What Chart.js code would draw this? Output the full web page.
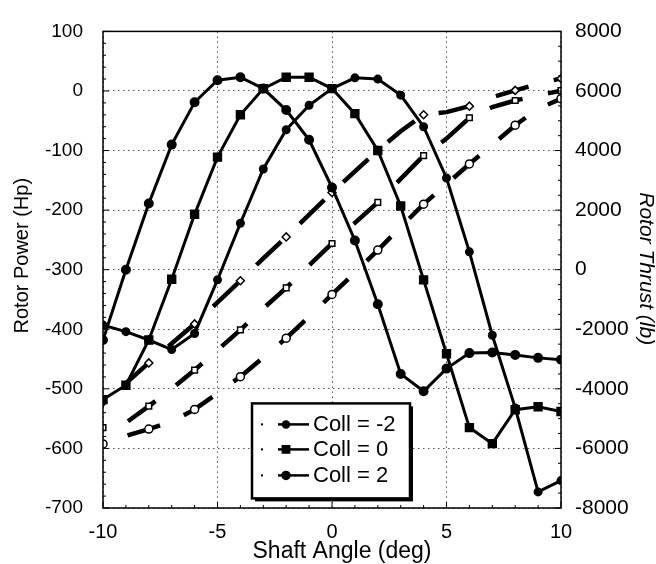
<!DOCTYPE html>
<html>
<head>
<meta charset="utf-8">
<script src="https://cdn.jsdelivr.net/npm/chart.js@4.4.1/dist/chart.umd.min.js"></script>
<style>
body{margin:0;background:#fff;}
#wrap{width:656px;height:564px;}
</style>
</head>
<body>
<div id="wrap"><canvas id="chart" width="656" height="564"></canvas></div>
<script>
// shaft angle (deg)
var angles = [-10,-9,-8,-7,-6,-5,-4,-3,-2,-1,0,1,2,3,4,5,6,7,8,9,10];

// rotor power (Hp), solid lines
var powerCollM2 = [-393,-404,-418,-434,-407,-317,-222,-131,-65,-24,4,22,20,-7,-60,-146,-270,-410,-532,-673,-654];
var powerColl0  = [-518,-494,-418,-316,-207,-111,-40,4,23,23,4,-38,-100,-193,-317,-441,-565,-592,-535,-530,-538];
var powerColl2  = [-418,-300,-189,-90,-19,18,23,4,-32,-82,-162,-251,-358,-475,-504,-466,-440,-439,-443,-448,-451];

// rotor thrust (lb), dashed lines
var thrustCollM2 = [-5850,-5580,-5350,-5100,-4690,-4150,-3590,-2950,-2300,-1570,-830,-100,660,1430,2200,2870,3550,4190,4850,5400,5740];
var thrustColl0  = [-5300,-5140,-4580,-4000,-3370,-2700,-2020,-1300,-610,150,880,1570,2260,3050,3830,4400,5100,5460,5680,5850,6010];
var thrustColl2  = [-4450,-3810,-3130,-2480,-1820,-1100,-370,380,1100,1850,2590,3300,4000,4650,5200,5290,5490,5790,6020,6240,6420];

var collLabels = ["Coll = -2", "Coll = 0", "Coll = 2"];
var markers = ["circle", "rect", "circle"];
var markerSize = [3, 4.5, 3.5];
var openMarkers = ["circle", "rect", "rectRot"];

var powerTicks = [100,0,-100,-200,-300,-400,-500,-600,-700];
var thrustTicks = [8000,6000,4000,2000,0,-2000,-4000,-6000,-8000];

var FONT = "'Liberation Sans', Arial, Helvetica, sans-serif";
Chart.defaults.font.family = FONT;
Chart.defaults.color = '#000';

function pts(vals){
	var out = [];
	for (var i=0; i<angles.length; i++) {
		out.push({x: angles[i], y: vals[i]});
	}
	return out;
}

var powerSets = [powerCollM2, powerColl0, powerColl2];
var thrustSets = [thrustCollM2, thrustColl0, thrustColl2];
var datasets = [];

for (var i=0; i<3; i++) {
	datasets.push({
		label: collLabels[i],
		data: pts(powerSets[i]),
		yAxisID: 'y',
		borderColor: '#000',
		backgroundColor: '#000',
		borderWidth: 3,
		pointStyle: markers[i],
		pointRadius: markerSize[i],
		pointBackgroundColor: '#000',
		pointBorderColor: '#000',
		tension: 0
	});
}
for (var i=0; i<3; i++) {
	datasets.push({
		label: collLabels[i] + ' thrust',
		data: pts(thrustSets[i]),
		yAxisID: 'y1',
		borderColor: '#000',
		borderWidth: 4.5,
		borderDash: [34, 26],
		borderDashOffset: 34,
		pointStyle: openMarkers[i],
		pointRadius: function(c){ return c.dataIndex % 2 == 0 ? 4 : 0; },
		pointBackgroundColor: '#fff',
		pointBorderColor: '#000',
		pointBorderWidth: 1.5,
		tension: 0
	});
}

// frame + little inward ticks like the original plot
var frameTicks = {
	id: 'frameTicks',
	afterDatasetsDraw: function(chart){
		var ctx = chart.ctx, a = chart.chartArea;
		var sx = chart.scales.x, sy = chart.scales.y, sy1 = chart.scales.y1;
		ctx.save();
		ctx.strokeStyle = '#000';
		ctx.lineWidth = 1.5;
		ctx.strokeRect(a.left, a.top, a.right - a.left, a.bottom - a.top);
		ctx.lineWidth = 1;
		ctx.beginPath();
		for (var v=-700; v<=100; v+=20) {
			var p = sy.getPixelForValue(v);
			var len = (v % 100 == 0) ? 6 : 3;
			ctx.moveTo(a.left, p); ctx.lineTo(a.left + len, p);
		}
		for (var t=-8000; t<=8000; t+=500) {
			var q = sy1.getPixelForValue(t);
			var l2 = (t % 2000 == 0) ? 6 : 3;
			ctx.moveTo(a.right, q); ctx.lineTo(a.right - l2, q);
		}
		for (var d=-10; d<=10; d++) {
			var r = sx.getPixelForValue(d);
			var l3 = (d % 5 == 0) ? 6 : 3;
			ctx.moveTo(r, a.bottom); ctx.lineTo(r, a.bottom - l3);
		}
		ctx.stroke();
		ctx.restore();
	}
};

var axisTitles = {
	id: 'axisTitles',
	afterDraw: function(chart){
		var ctx = chart.ctx, a = chart.chartArea;
		ctx.save();
		ctx.fillStyle = '#000';
		ctx.textAlign = 'center';
		ctx.textBaseline = 'middle';

		ctx.font = '23px ' + FONT;
		ctx.fillText('Shaft Angle (deg)', (a.left + a.right)/2 + 10, 552);

		ctx.save();
		ctx.translate(22, (a.top + a.bottom)/2 - 14);
		ctx.rotate(-Math.PI/2);
		ctx.font = '20px ' + FONT;
		ctx.fillText('Rotor Power (Hp)', 0, 0);
		ctx.restore();

		ctx.save();
		ctx.translate(646, (a.top + a.bottom)/2 - 1);
		ctx.rotate(Math.PI/2);
		ctx.font = 'italic 21px ' + FONT;
		ctx.fillText('Rotor Thrust (lb)', 0, 0);
		ctx.restore();
		ctx.restore();
	}
};

var legendBox = {
	id: 'legendBox',
	afterDraw: function(chart){
		var ctx = chart.ctx, a = chart.chartArea;
		var bx = a.left + 149, by = a.top + 372, bw = 158, bh = 95;
		ctx.save();
		ctx.fillStyle = '#000';
		ctx.fillRect(bx + 3, by + 3, bw, bh);
		ctx.fillStyle = '#fff';
		ctx.fillRect(bx, by, bw, bh);
		ctx.strokeStyle = '#000';
		ctx.lineWidth = 2.5;
		ctx.strokeRect(bx, by, bw, bh);

		ctx.font = '22px ' + FONT;
		ctx.textBaseline = 'middle';
		ctx.textAlign = 'left';
		var rows = [21, 46, 72];
		for (var i=0; i<3; i++) {
			var ds = chart.data.datasets[i];
			var yy = by + rows[i];
			ctx.fillStyle = '#000';
			ctx.fillRect(bx + 9, yy - 1, 2, 2);
			ctx.lineWidth = 2.5;
			ctx.beginPath();
			ctx.moveTo(bx + 26, yy); ctx.lineTo(bx + 57, yy);
			ctx.stroke();
			Chart.helpers.drawPoint(ctx, {pointStyle: ds.pointStyle, radius: ds.pointRadius, borderWidth: 1, rotation: 0}, bx + 34, yy);
			ctx.fill();
			ctx.fillText(ds.label, bx + 61, yy + 1);
		}
		ctx.restore();
	}
};

new Chart(document.getElementById('chart'), {
	type: 'line',
	data: { datasets: datasets },
	options: {
		responsive: false,
		animation: false,
		events: [],
		layout: { padding: { top: 25, left: 0, right: 0, bottom: 0 } },
		plugins: { legend: { display: false }, tooltip: { enabled: false } },
		scales: {
			x: {
				type: 'linear',
				min: -10, max: 10,
				afterFit: function(s){ s.height = 56; },
				ticks: { stepSize: 5, font: { size: 20 }, padding: 12, color: '#000' },
				grid: { color: '#555', lineWidth: 1, drawTicks: false },
				border: { display: false, dash: [1.5, 3.5] }
			},
			y: {
				position: 'left',
				min: -700, max: 100,
				afterFit: function(s){ s.width = 103; },
				afterBuildTicks: function(s){ s.ticks = powerTicks.map(function(v){ return {value: v}; }); },
				ticks: { font: { size: 19 }, padding: 20, color: '#000', callback: function(v){ return String(v); } },
				grid: { color: '#555', lineWidth: 1, drawTicks: false },
				border: { display: false, dash: [1.5, 3.5] }
			},
			y1: {
				position: 'right',
				min: -8000, max: 8000,
				afterFit: function(s){ s.width = 95; },
				afterBuildTicks: function(s){ s.ticks = thrustTicks.map(function(v){ return {value: v}; }); },
				ticks: { font: { size: 21 }, padding: 14, color: '#000', callback: function(v){ return String(v); } },
				grid: { drawOnChartArea: false, drawTicks: false },
				border: { display: false }
			}
		}
	},
	plugins: [frameTicks, axisTitles, legendBox]
});
</script>
</body>
</html>
